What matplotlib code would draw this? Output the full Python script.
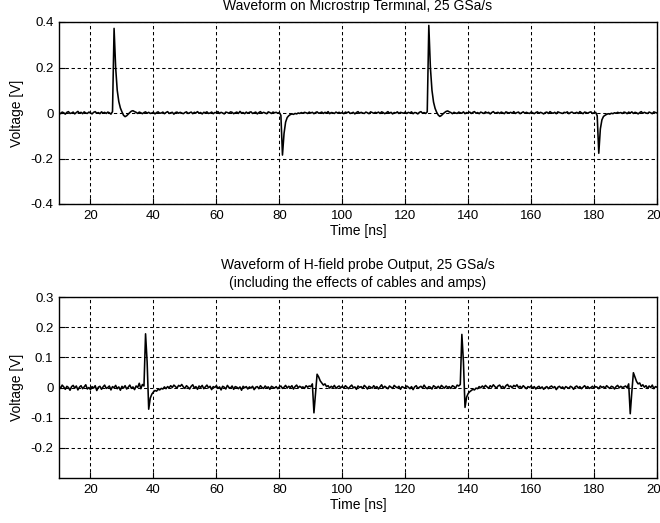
import numpy as np
import matplotlib
matplotlib.use("Agg")
import matplotlib.pyplot as plt

plt.rcParams["font.family"] = ["Liberation Sans", "DejaVu Sans"]

# sample clock of the decimated records, ns
T_START = 10.0
T_STEP = 0.5

# microstrip terminal voltage in mV, one row per 10 ns
microstrip_mv = [
    2, -3, 4, 1, -5, 3, 6, -2, 0, 4, -4, 2, 7, -1, 3, -3, 5, 0, -2, 4,
    1, -4, 3, 6, -1, 2, -3, 5, 0, 3, -2, 4, 1, -5, 6, 372, 200, 100, 50, 22,
    5, -10, -16, -12, -5, 2, 8, 10, 6, 3, -2, 4, 1, -3, 2, 5, -1, 3, -2, 0,
    3, -4, 2, 5, -1, 0, 4, -3, 2, 6, -2, 1, 3, -5, 2, 4, -1, 3, 0, -3,
    2, 5, -2, 1, 4, -3, 3, 0, 6, -1, 2, -4, 3, 1, 5, -2, 0, 4, -3, 2,
    1, 6, -2, 3, 0, -4, 4, 2, -1, 5, 3, -3, 1, 4, -2, 7, 0, 2, -3, 4,
    -1, 3, 5, -2, 1, 4, -4, 2, 6, -1, 3, 0, -3, 5, 2, -2, 4, 1, 3, -1,
    2, -10, -185, -90, -40, -20, -12, -7, -4, -6, -2, -4, 0, -2, 2, -1, 3, 1, -2, 4,
    0, 3, -3, 2, 5, -1, 1, 4, -2, 3, 0, 6, -3, 2, 1, -2, 4, 0, 3, -1,
    2, -3, 4, 1, 5, -2, 0, 3, -4, 2, 6, -1, 3, 0, -2, 4, 1, -3, 5, 2,
    -1, 3, 0, 4, -2, 5, 2, -3, 1, 6, -1, 3, -4, 2, 0, 5, -2, 3, 1, -1,
    4, -2, 3, 0, 5, -3, 2, 1, -4, 3, 6, -1, 2, -2, 5, 385, 200, 100, 48, 20,
    3, -9, -15, -11, -4, 2, 7, 9, 5, 2, -3, 3, 0, -2, 4, 1, -1, 5, -3, 2,
    0, 4, -2, 3, 6, -1, 2, -3, 4, 1, -2, 5, 0, 3, -4, 2, 6, -1, 1, 3,
    -2, 4, 1, -3, 5, 2, 0, 3, -1, 6, -2, 2, 4, -3, 1, 5, -1, 3, 0, -2,
    4, 1, -3, 2, 5, -1, 3, 0, -4, 2, 4, -2, 6, 1, -1, 3, -3, 5, 2, 0,
    -2, 3, 1, 5, -3, 2, 4, -1, 0, 3, -2, 6, 1, -3, 4, 2, -1, 3, 5, -2,
    1, 3, -12, -177, -70, -30, -15, -10, -6, -3, -5, -1, -3, 1, -1, 3, 0, 2, -2, 4,
    2, -3, 4, 0, 5, -2, 3, 1, -4, 2, 6, -1, 3, 0, -2, 4, 1, -3, 5, 2, 0,
]

# H-field probe output in mV, one row per 10 ns
probe_mv = [
    5, -3, 8, 2, -6, 4, 0, -9, 3, 7, -2, 5, -8, 1, 6, -4, 2, 9, -5, 0,
    -7, 3, -2, 6, -10, 1, 4, -6, 2, 8, -3, 0, 5, -8, 3, -1, 7, -4, 2, -9,
    4, -2, 6, -5, 1, 8, -3, 2, -7, 5, 0, 14, -4, 10, 5, 178, 85, -72, -35, -22,
    -15, -10, -12, -6, -8, -3, -5, 2, -4, 3, -1, 6, 0, 8, 3, -2, 7, 4, 10, 2,
    -3, 6, 1, -5, 4, 9, -2, 3, -6, 5, 0, 7, -4, 2, 8, -1, 4, -7, 3, 0,
    6, -3, 2, -8, 4, 1, -5, 7, 0, -2, 5, -6, 3, 1, -4, 2, -9, 4, -1, 3,
    -5, 2, -2, 4, -7, 1, 3, -4, 6, 0, -3, 5, -1, 2, -6, 4, 1, -2, 3, -4,
    2, 5, -3, 1, 7, -2, 4, 0, 6, -5, 3, 8, -1, 4, 0, 2, -3, 6, 1, 5,
    3, 12, -84, -20, 44, 35, 22, 15, 8, 12, 3, 6, -2, 4, 0, 7, -3, 2, 5, -1,
    4, -2, 6, 1, -4, 3, 8, -1, 2, -6, 5, 0, 3, -3, 7, 2, -5, 4, 1, -2,
    6, -1, 3, -5, 2, 9, -2, 4, 0, -4, 5, 1, -3, 7, 2, -1, 4, -6, 3, 0,
    -2, 5, 1, -4, 3, -7, 2, 6, -3, 1, 4, -2, 8, 0, -4, 3, 1, -5, 6, 2,
    -1, 4, -3, 7, 2, -2, 5, 0, 3, -3, 6, 3, -2, 8, 5, 10, 176, 85, -66, -32,
    -20, -14, -10, -6, -8, -2, -4, 3, -1, 5, 0, 7, 2, -3, 6, 1, 9, 3, -2, 5,
    8, 0, 4, -3, 6, 10, 2, 5, -1, 7, 3, 9, 0, 4, -2, 6, 1, -4, 3, 0,
    5, -2, 3, -5, 1, 4, -3, 2, -6, 0, 3, -4, 2, 5, -1, 3, -7, 1, 4, -2,
    2, -5, 3, 0, -3, 4, 1, -6, 2, 5, -2, 3, -4, 1, 6, -1, 3, -3, 0, 4,
    -2, 3, 1, -4, 5, 0, 3, -2, 6, 1, -3, 4, 2, -5, 3, 7, -1, 4, 0, 2,
    5, -1, 12, -87, -15, 49, 35, 20, 12, 15, 4, 9, 1, 6, -3, 5, 0, 8, -4, 3, 1,
]

x_ticks = [20, 40, 60, 80, 100, 120, 140, 160, 180, 200]
top_y_ticks = [-0.4, -0.2, 0, 0.2, 0.4]
top_y_labels = ["-0.4", "-0.2", "0", "0.2", "0.4"]
bottom_y_ticks = [-0.2, -0.1, 0, 0.1, 0.2, 0.3]
bottom_y_labels = ["-0.2", "-0.1", "0", "0.1", "0.2", "0.3"]

TICK_SIZE = 9.5
TEXT_SIZE = 10


def style_axes(ax, y_ticks, y_labels, y_lim):
    ax.set_xlim(10, 200)
    ax.set_ylim(*y_lim)
    ax.set_xticks(x_ticks)
    ax.set_xticklabels([str(x) for x in x_ticks])
    ax.set_yticks(y_ticks)
    ax.set_yticklabels(y_labels)
    ax.tick_params(direction="in", length=4, width=0.8, labelsize=TICK_SIZE,
                   top=False, right=False, pad=4)
    ax.grid(True, color="black", linestyle=(0, (3.2, 2.6)), linewidth=0.75)
    ax.set_axisbelow(True)
    for spine in ax.spines.values():
        spine.set_linewidth(1.0)
        spine.set_color("black")
    ax.set_xlabel("Time [ns]", fontsize=TEXT_SIZE, labelpad=2)
    ax.set_ylabel("Voltage [V]", fontsize=TEXT_SIZE, labelpad=5)


def main():
    t_top = T_START + T_STEP * np.arange(len(microstrip_mv))
    t_bottom = T_START + T_STEP * np.arange(len(probe_mv))
    v_top = np.array(microstrip_mv) / 1000.0
    v_bottom = np.array(probe_mv) / 1000.0

    fig = plt.figure(figsize=(6.6, 5.23), dpi=100)
    ax1 = fig.add_axes([59 / 660, 1 - 204 / 523, 598 / 660, 182 / 523])
    ax2 = fig.add_axes([59 / 660, 1 - 478 / 523, 598 / 660, 181 / 523])

    ax1.plot(t_top, v_top, color="black", linewidth=1.15)
    style_axes(ax1, top_y_ticks, top_y_labels, (-0.4, 0.4))
    ax1.set_title("Waveform on Microstrip Terminal, 25 GSa/s",
                  fontsize=TEXT_SIZE, pad=8.5)

    ax2.plot(t_bottom, v_bottom, color="black", linewidth=1.15)
    style_axes(ax2, bottom_y_ticks, bottom_y_labels, (-0.3, 0.3))
    ax2.set_title("Waveform of H-field probe Output, 25 GSa/s\n"
                  "(including the effects of cables and amps)",
                  fontsize=TEXT_SIZE, pad=7.5, linespacing=1.3)

    fig.savefig("out.png", dpi=100)
    plt.close(fig)


if __name__ == "__main__":
    main()
